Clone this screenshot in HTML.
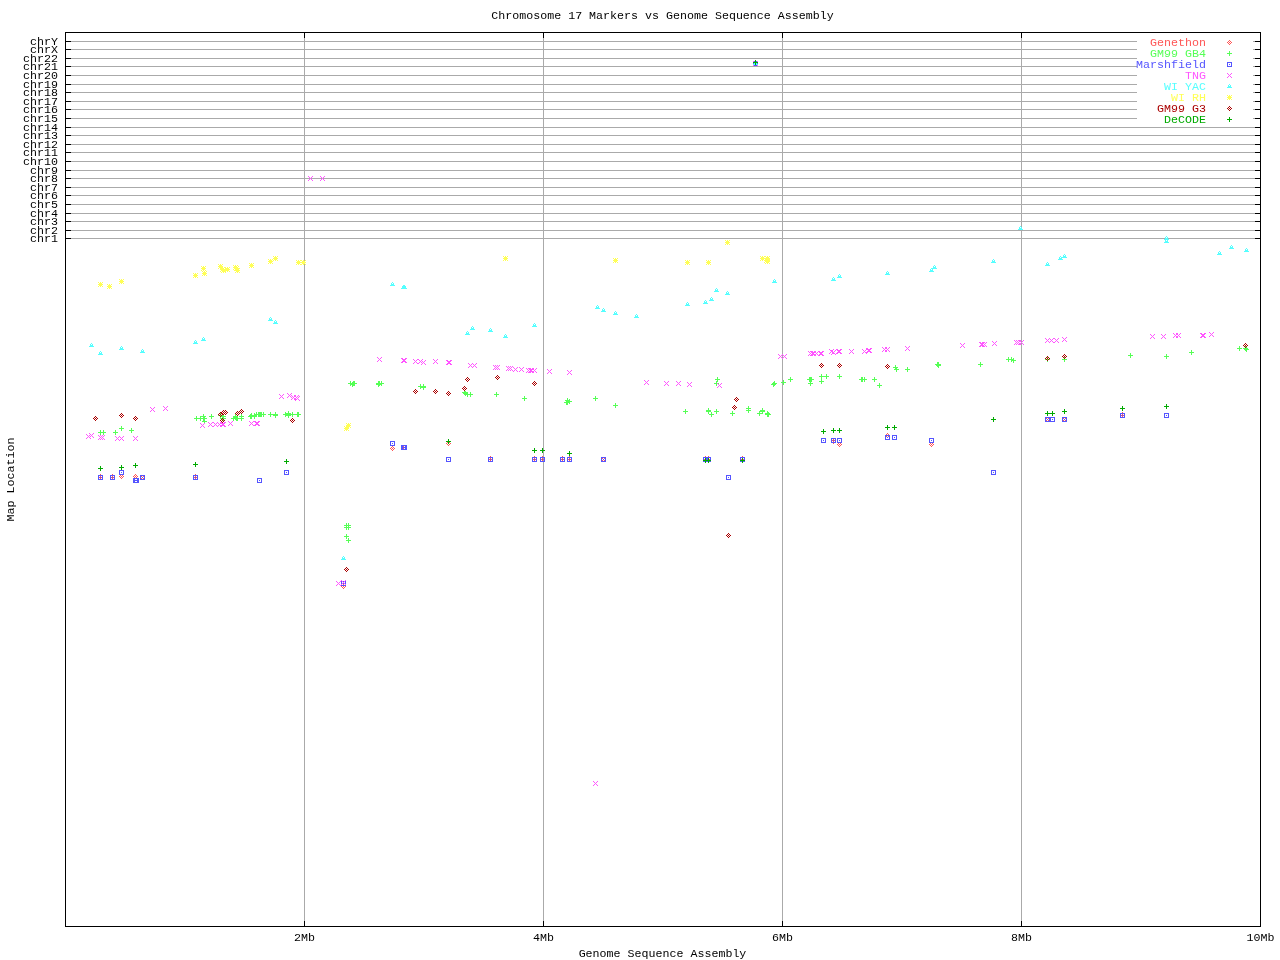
<!DOCTYPE html>
<html lang="en"><head><meta charset="utf-8">
<title>Chromosome 17 Markers vs Genome Sequence Assembly</title>
<style>
html,body{margin:0;padding:0;background:#fff;}
body{width:1280px;height:960px;overflow:hidden;}
svg{display:block;}
text{font-family:"Liberation Mono","DejaVu Sans Mono",monospace;font-size:11.667px;fill:#000;}
.g{fill:#aaaaaa;shape-rendering:crispEdges;}
.k{fill:#000;shape-rendering:crispEdges;}
.m{shape-rendering:crispEdges;}
</style></head><body>
<svg width="1280" height="960" viewBox="0 0 1280 960">
<rect x="0" y="0" width="1280" height="960" fill="#fff"/>
<defs>
<path id="dia" d="M0 -2h1v1h-1zM-1 -1h1v1h-1zM1 -1h1v1h-1zM-2 0h1v1h-1zM0 0h1v1h-1zM2 0h1v1h-1zM-1 1h1v1h-1zM1 1h1v1h-1zM0 2h1v1h-1z"/>
<path id="plus" d="M0 -2h1v1h-1zM0 -1h1v1h-1zM-2 0h5v1h-5zM0 1h1v1h-1zM0 2h1v1h-1z"/>
<path id="box" d="M-2 -2h5v1h-5zM-2 -1h1v1h-1zM2 -1h1v1h-1zM-2 0h1v1h-1zM0 0h1v1h-1zM2 0h1v1h-1zM-2 1h1v1h-1zM2 1h1v1h-1zM-2 2h5v1h-5z"/>
<path id="x" d="M-2 -2h1v1h-1zM2 -2h1v1h-1zM-1 -1h1v1h-1zM1 -1h1v1h-1zM0 0h1v1h-1zM-1 1h1v1h-1zM1 1h1v1h-1zM-2 2h1v1h-1zM2 2h1v1h-1z"/>
<path id="star" d="M-2 -2h1v1h-1zM0 -2h1v1h-1zM2 -2h1v1h-1zM-1 -1h3v1h-3zM-2 0h5v1h-5zM-1 1h3v1h-3zM-2 2h1v1h-1zM0 2h1v1h-1zM2 2h1v1h-1z"/>
<path id="tri" d="M0 -2h1v1h-1zM-1 -1h1v1h-1zM1 -1h1v1h-1zM-1 0h3v1h-3zM-2 1h5v1h-5z"/>
</defs>
<g class="g">
<rect x="66" y="41" width="1194" height="1"/>
<rect x="66" y="49" width="1194" height="1"/>
<rect x="66" y="58" width="1194" height="1"/>
<rect x="66" y="66" width="1194" height="1"/>
<rect x="66" y="75" width="1194" height="1"/>
<rect x="66" y="84" width="1194" height="1"/>
<rect x="66" y="92" width="1194" height="1"/>
<rect x="66" y="101" width="1194" height="1"/>
<rect x="66" y="109" width="1194" height="1"/>
<rect x="66" y="118" width="1194" height="1"/>
<rect x="66" y="127" width="1194" height="1"/>
<rect x="66" y="135" width="1194" height="1"/>
<rect x="66" y="144" width="1194" height="1"/>
<rect x="66" y="152" width="1194" height="1"/>
<rect x="66" y="161" width="1194" height="1"/>
<rect x="66" y="170" width="1194" height="1"/>
<rect x="66" y="178" width="1194" height="1"/>
<rect x="66" y="187" width="1194" height="1"/>
<rect x="66" y="195" width="1194" height="1"/>
<rect x="66" y="204" width="1194" height="1"/>
<rect x="66" y="213" width="1194" height="1"/>
<rect x="66" y="221" width="1194" height="1"/>
<rect x="66" y="230" width="1194" height="1"/>
<rect x="66" y="238" width="1194" height="1"/>
<rect x="304" y="33" width="1" height="893"/>
<rect x="543" y="33" width="1" height="893"/>
<rect x="782" y="33" width="1" height="893"/>
<rect x="1021" y="33" width="1" height="893"/>
</g>
<rect x="1137" y="33" width="116" height="91" fill="#fff"/>
<g class="k">
<rect x="65" y="32" width="1196" height="1"/>
<rect x="65" y="926" width="1196" height="1"/>
<rect x="65" y="32" width="1" height="895"/>
<rect x="1260" y="32" width="1" height="895"/>
<rect x="65" y="41" width="6" height="1"/>
<rect x="1255" y="41" width="6" height="1"/>
<rect x="65" y="49" width="6" height="1"/>
<rect x="1255" y="49" width="6" height="1"/>
<rect x="65" y="58" width="6" height="1"/>
<rect x="1255" y="58" width="6" height="1"/>
<rect x="65" y="66" width="6" height="1"/>
<rect x="1255" y="66" width="6" height="1"/>
<rect x="65" y="75" width="6" height="1"/>
<rect x="1255" y="75" width="6" height="1"/>
<rect x="65" y="84" width="6" height="1"/>
<rect x="1255" y="84" width="6" height="1"/>
<rect x="65" y="92" width="6" height="1"/>
<rect x="1255" y="92" width="6" height="1"/>
<rect x="65" y="101" width="6" height="1"/>
<rect x="1255" y="101" width="6" height="1"/>
<rect x="65" y="109" width="6" height="1"/>
<rect x="1255" y="109" width="6" height="1"/>
<rect x="65" y="118" width="6" height="1"/>
<rect x="1255" y="118" width="6" height="1"/>
<rect x="65" y="127" width="6" height="1"/>
<rect x="1255" y="127" width="6" height="1"/>
<rect x="65" y="135" width="6" height="1"/>
<rect x="1255" y="135" width="6" height="1"/>
<rect x="65" y="144" width="6" height="1"/>
<rect x="1255" y="144" width="6" height="1"/>
<rect x="65" y="152" width="6" height="1"/>
<rect x="1255" y="152" width="6" height="1"/>
<rect x="65" y="161" width="6" height="1"/>
<rect x="1255" y="161" width="6" height="1"/>
<rect x="65" y="170" width="6" height="1"/>
<rect x="1255" y="170" width="6" height="1"/>
<rect x="65" y="178" width="6" height="1"/>
<rect x="1255" y="178" width="6" height="1"/>
<rect x="65" y="187" width="6" height="1"/>
<rect x="1255" y="187" width="6" height="1"/>
<rect x="65" y="195" width="6" height="1"/>
<rect x="1255" y="195" width="6" height="1"/>
<rect x="65" y="204" width="6" height="1"/>
<rect x="1255" y="204" width="6" height="1"/>
<rect x="65" y="213" width="6" height="1"/>
<rect x="1255" y="213" width="6" height="1"/>
<rect x="65" y="221" width="6" height="1"/>
<rect x="1255" y="221" width="6" height="1"/>
<rect x="65" y="230" width="6" height="1"/>
<rect x="1255" y="230" width="6" height="1"/>
<rect x="65" y="238" width="6" height="1"/>
<rect x="1255" y="238" width="6" height="1"/>
<rect x="304" y="921" width="1" height="6"/>
<rect x="304" y="32" width="1" height="6"/>
<rect x="543" y="921" width="1" height="6"/>
<rect x="543" y="32" width="1" height="6"/>
<rect x="782" y="921" width="1" height="6"/>
<rect x="782" y="32" width="1" height="6"/>
<rect x="1021" y="921" width="1" height="6"/>
<rect x="1021" y="32" width="1" height="6"/>
</g>
<g class="m" fill="#ff5555">
<use href="#dia" x="100" y="476"/>
<use href="#dia" x="112" y="476"/>
<use href="#dia" x="121" y="476"/>
<use href="#dia" x="135" y="476"/>
<use href="#dia" x="142" y="477"/>
<use href="#dia" x="195" y="476"/>
<use href="#dia" x="392" y="448"/>
<use href="#dia" x="404" y="447"/>
<use href="#dia" x="448" y="443"/>
<use href="#dia" x="490" y="458"/>
<use href="#dia" x="534" y="458"/>
<use href="#dia" x="542" y="458"/>
<use href="#dia" x="562" y="458"/>
<use href="#dia" x="569" y="458"/>
<use href="#dia" x="603" y="459"/>
<use href="#dia" x="705" y="458"/>
<use href="#dia" x="708" y="458"/>
<use href="#dia" x="742" y="458"/>
<use href="#dia" x="833" y="441"/>
<use href="#dia" x="839" y="444"/>
<use href="#dia" x="887" y="435"/>
<use href="#dia" x="931" y="444"/>
<use href="#dia" x="1047" y="419"/>
<use href="#dia" x="1064" y="419"/>
<use href="#dia" x="1122" y="414"/>
<use href="#dia" x="343" y="586"/>
</g>
<g class="m" fill="#55ff55">
<use href="#plus" x="100" y="432"/>
<use href="#plus" x="103" y="432"/>
<use href="#plus" x="115" y="432"/>
<use href="#plus" x="121" y="428"/>
<use href="#plus" x="131" y="430"/>
<use href="#plus" x="196" y="418"/>
<use href="#plus" x="200" y="418"/>
<use href="#plus" x="203" y="416"/>
<use href="#plus" x="203" y="418"/>
<use href="#plus" x="204" y="418"/>
<use href="#plus" x="204" y="421"/>
<use href="#plus" x="211" y="416"/>
<use href="#plus" x="220" y="415"/>
<use href="#plus" x="222" y="418"/>
<use href="#plus" x="223" y="418"/>
<use href="#plus" x="223" y="416"/>
<use href="#plus" x="233" y="418"/>
<use href="#plus" x="235" y="416"/>
<use href="#plus" x="235" y="417"/>
<use href="#plus" x="236" y="418"/>
<use href="#plus" x="237" y="418"/>
<use href="#plus" x="241" y="416"/>
<use href="#plus" x="241" y="418"/>
<use href="#plus" x="250" y="416"/>
<use href="#plus" x="251" y="415"/>
<use href="#plus" x="251" y="416"/>
<use href="#plus" x="254" y="415"/>
<use href="#plus" x="254" y="416"/>
<use href="#plus" x="256" y="414"/>
<use href="#plus" x="258" y="414"/>
<use href="#plus" x="259" y="414"/>
<use href="#plus" x="260" y="414"/>
<use href="#plus" x="261" y="414"/>
<use href="#plus" x="263" y="414"/>
<use href="#plus" x="270" y="414"/>
<use href="#plus" x="275" y="414"/>
<use href="#plus" x="275" y="415"/>
<use href="#plus" x="285" y="414"/>
<use href="#plus" x="288" y="413"/>
<use href="#plus" x="288" y="414"/>
<use href="#plus" x="288" y="415"/>
<use href="#plus" x="292" y="414"/>
<use href="#plus" x="297" y="414"/>
<use href="#plus" x="298" y="414"/>
<use href="#plus" x="350" y="383"/>
<use href="#plus" x="352" y="384"/>
<use href="#plus" x="353" y="383"/>
<use href="#plus" x="354" y="383"/>
<use href="#plus" x="378" y="383"/>
<use href="#plus" x="379" y="383"/>
<use href="#plus" x="378" y="384"/>
<use href="#plus" x="381" y="383"/>
<use href="#plus" x="420" y="386"/>
<use href="#plus" x="423" y="386"/>
<use href="#plus" x="423" y="387"/>
<use href="#plus" x="464" y="392"/>
<use href="#plus" x="465" y="393"/>
<use href="#plus" x="467" y="394"/>
<use href="#plus" x="470" y="394"/>
<use href="#plus" x="496" y="394"/>
<use href="#plus" x="524" y="398"/>
<use href="#plus" x="567" y="400"/>
<use href="#plus" x="569" y="401"/>
<use href="#plus" x="566" y="402"/>
<use href="#plus" x="567" y="402"/>
<use href="#plus" x="595" y="398"/>
<use href="#plus" x="615" y="405"/>
<use href="#plus" x="685" y="411"/>
<use href="#plus" x="708" y="410"/>
<use href="#plus" x="708" y="411"/>
<use href="#plus" x="711" y="414"/>
<use href="#plus" x="716" y="411"/>
<use href="#plus" x="732" y="413"/>
<use href="#plus" x="748" y="408"/>
<use href="#plus" x="748" y="410"/>
<use href="#plus" x="759" y="413"/>
<use href="#plus" x="762" y="410"/>
<use href="#plus" x="762" y="411"/>
<use href="#plus" x="767" y="413"/>
<use href="#plus" x="768" y="414"/>
<use href="#plus" x="767" y="414"/>
<use href="#plus" x="717" y="379"/>
<use href="#plus" x="716" y="383"/>
<use href="#plus" x="773" y="384"/>
<use href="#plus" x="774" y="383"/>
<use href="#plus" x="783" y="382"/>
<use href="#plus" x="790" y="379"/>
<use href="#plus" x="809" y="379"/>
<use href="#plus" x="810" y="379"/>
<use href="#plus" x="811" y="379"/>
<use href="#plus" x="810" y="383"/>
<use href="#plus" x="821" y="376"/>
<use href="#plus" x="821" y="381"/>
<use href="#plus" x="826" y="376"/>
<use href="#plus" x="839" y="376"/>
<use href="#plus" x="861" y="379"/>
<use href="#plus" x="862" y="379"/>
<use href="#plus" x="864" y="379"/>
<use href="#plus" x="874" y="379"/>
<use href="#plus" x="879" y="385"/>
<use href="#plus" x="895" y="367"/>
<use href="#plus" x="896" y="369"/>
<use href="#plus" x="907" y="369"/>
<use href="#plus" x="937" y="364"/>
<use href="#plus" x="938" y="364"/>
<use href="#plus" x="938" y="365"/>
<use href="#plus" x="980" y="364"/>
<use href="#plus" x="1008" y="359"/>
<use href="#plus" x="1011" y="359"/>
<use href="#plus" x="1013" y="360"/>
<use href="#plus" x="1047" y="359"/>
<use href="#plus" x="1064" y="359"/>
<use href="#plus" x="1130" y="355"/>
<use href="#plus" x="1166" y="356"/>
<use href="#plus" x="1191" y="352"/>
<use href="#plus" x="1239" y="348"/>
<use href="#plus" x="1245" y="348"/>
<use href="#plus" x="1246" y="349"/>
<use href="#plus" x="346" y="525"/>
<use href="#plus" x="348" y="525"/>
<use href="#plus" x="346" y="527"/>
<use href="#plus" x="348" y="527"/>
<use href="#plus" x="346" y="536"/>
<use href="#plus" x="348" y="540"/>
</g>
<g class="m" fill="#5555ff">
<use href="#box" x="100" y="477"/>
<use href="#box" x="112" y="477"/>
<use href="#box" x="121" y="472"/>
<use href="#box" x="135" y="480"/>
<use href="#box" x="136" y="480"/>
<use href="#box" x="142" y="477"/>
<use href="#box" x="195" y="477"/>
<use href="#box" x="259" y="480"/>
<use href="#box" x="286" y="472"/>
<use href="#box" x="392" y="443"/>
<use href="#box" x="403" y="447"/>
<use href="#box" x="404" y="447"/>
<use href="#box" x="448" y="459"/>
<use href="#box" x="490" y="459"/>
<use href="#box" x="534" y="459"/>
<use href="#box" x="542" y="459"/>
<use href="#box" x="562" y="459"/>
<use href="#box" x="569" y="459"/>
<use href="#box" x="603" y="459"/>
<use href="#box" x="705" y="459"/>
<use href="#box" x="708" y="459"/>
<use href="#box" x="742" y="459"/>
<use href="#box" x="728" y="477"/>
<use href="#box" x="823" y="440"/>
<use href="#box" x="833" y="440"/>
<use href="#box" x="839" y="440"/>
<use href="#box" x="887" y="437"/>
<use href="#box" x="894" y="437"/>
<use href="#box" x="931" y="440"/>
<use href="#box" x="993" y="472"/>
<use href="#box" x="1047" y="419"/>
<use href="#box" x="1052" y="419"/>
<use href="#box" x="1064" y="419"/>
<use href="#box" x="1122" y="415"/>
<use href="#box" x="1166" y="415"/>
<use href="#box" x="343" y="583"/>
<use href="#box" x="755" y="63"/>
</g>
<g class="m" fill="#ff55ff">
<use href="#x" x="152" y="409"/>
<use href="#x" x="165" y="408"/>
<use href="#x" x="88" y="436"/>
<use href="#x" x="91" y="435"/>
<use href="#x" x="100" y="437"/>
<use href="#x" x="102" y="437"/>
<use href="#x" x="117" y="438"/>
<use href="#x" x="121" y="438"/>
<use href="#x" x="135" y="438"/>
<use href="#x" x="202" y="425"/>
<use href="#x" x="210" y="424"/>
<use href="#x" x="215" y="424"/>
<use href="#x" x="219" y="424"/>
<use href="#x" x="222" y="424"/>
<use href="#x" x="223" y="424"/>
<use href="#x" x="230" y="423"/>
<use href="#x" x="251" y="423"/>
<use href="#x" x="256" y="423"/>
<use href="#x" x="257" y="423"/>
<use href="#x" x="281" y="396"/>
<use href="#x" x="289" y="395"/>
<use href="#x" x="293" y="397"/>
<use href="#x" x="296" y="397"/>
<use href="#x" x="297" y="398"/>
<use href="#x" x="379" y="359"/>
<use href="#x" x="403" y="360"/>
<use href="#x" x="404" y="360"/>
<use href="#x" x="415" y="361"/>
<use href="#x" x="420" y="361"/>
<use href="#x" x="423" y="362"/>
<use href="#x" x="435" y="361"/>
<use href="#x" x="448" y="362"/>
<use href="#x" x="449" y="362"/>
<use href="#x" x="470" y="365"/>
<use href="#x" x="474" y="365"/>
<use href="#x" x="495" y="367"/>
<use href="#x" x="497" y="367"/>
<use href="#x" x="508" y="368"/>
<use href="#x" x="510" y="368"/>
<use href="#x" x="515" y="369"/>
<use href="#x" x="521" y="369"/>
<use href="#x" x="528" y="370"/>
<use href="#x" x="530" y="370"/>
<use href="#x" x="531" y="370"/>
<use href="#x" x="534" y="370"/>
<use href="#x" x="549" y="371"/>
<use href="#x" x="569" y="372"/>
<use href="#x" x="646" y="382"/>
<use href="#x" x="666" y="383"/>
<use href="#x" x="678" y="383"/>
<use href="#x" x="689" y="384"/>
<use href="#x" x="719" y="385"/>
<use href="#x" x="780" y="356"/>
<use href="#x" x="784" y="356"/>
<use href="#x" x="810" y="353"/>
<use href="#x" x="812" y="353"/>
<use href="#x" x="813" y="353"/>
<use href="#x" x="816" y="353"/>
<use href="#x" x="820" y="353"/>
<use href="#x" x="821" y="353"/>
<use href="#x" x="831" y="351"/>
<use href="#x" x="833" y="352"/>
<use href="#x" x="838" y="351"/>
<use href="#x" x="839" y="351"/>
<use href="#x" x="851" y="351"/>
<use href="#x" x="864" y="351"/>
<use href="#x" x="868" y="350"/>
<use href="#x" x="869" y="350"/>
<use href="#x" x="884" y="349"/>
<use href="#x" x="887" y="349"/>
<use href="#x" x="907" y="348"/>
<use href="#x" x="962" y="345"/>
<use href="#x" x="981" y="344"/>
<use href="#x" x="982" y="344"/>
<use href="#x" x="984" y="344"/>
<use href="#x" x="994" y="343"/>
<use href="#x" x="1016" y="342"/>
<use href="#x" x="1018" y="342"/>
<use href="#x" x="1021" y="342"/>
<use href="#x" x="1047" y="340"/>
<use href="#x" x="1051" y="340"/>
<use href="#x" x="1056" y="340"/>
<use href="#x" x="1064" y="339"/>
<use href="#x" x="1152" y="336"/>
<use href="#x" x="1163" y="336"/>
<use href="#x" x="1175" y="335"/>
<use href="#x" x="1178" y="335"/>
<use href="#x" x="1202" y="335"/>
<use href="#x" x="1203" y="335"/>
<use href="#x" x="1211" y="334"/>
<use href="#x" x="310" y="178"/>
<use href="#x" x="322" y="178"/>
<use href="#x" x="338" y="583"/>
<use href="#x" x="343" y="582"/>
<use href="#x" x="595" y="783"/>
<use href="#x" x="755" y="63"/>
</g>
<g class="m" fill="#55ffff">
<use href="#tri" x="91" y="345"/>
<use href="#tri" x="100" y="353"/>
<use href="#tri" x="121" y="348"/>
<use href="#tri" x="142" y="351"/>
<use href="#tri" x="195" y="342"/>
<use href="#tri" x="203" y="339"/>
<use href="#tri" x="270" y="319"/>
<use href="#tri" x="275" y="322"/>
<use href="#tri" x="392" y="284"/>
<use href="#tri" x="403" y="287"/>
<use href="#tri" x="404" y="287"/>
<use href="#tri" x="467" y="333"/>
<use href="#tri" x="472" y="328"/>
<use href="#tri" x="490" y="330"/>
<use href="#tri" x="505" y="336"/>
<use href="#tri" x="534" y="325"/>
<use href="#tri" x="597" y="307"/>
<use href="#tri" x="603" y="310"/>
<use href="#tri" x="615" y="313"/>
<use href="#tri" x="636" y="316"/>
<use href="#tri" x="687" y="304"/>
<use href="#tri" x="705" y="302"/>
<use href="#tri" x="711" y="299"/>
<use href="#tri" x="716" y="290"/>
<use href="#tri" x="727" y="293"/>
<use href="#tri" x="774" y="281"/>
<use href="#tri" x="833" y="279"/>
<use href="#tri" x="839" y="276"/>
<use href="#tri" x="887" y="273"/>
<use href="#tri" x="931" y="270"/>
<use href="#tri" x="934" y="267"/>
<use href="#tri" x="993" y="261"/>
<use href="#tri" x="1047" y="264"/>
<use href="#tri" x="1060" y="258"/>
<use href="#tri" x="1064" y="256"/>
<use href="#tri" x="1166" y="238"/>
<use href="#tri" x="1166" y="241"/>
<use href="#tri" x="1219" y="253"/>
<use href="#tri" x="1231" y="247"/>
<use href="#tri" x="1246" y="250"/>
<use href="#tri" x="1020" y="228"/>
<use href="#tri" x="343" y="558"/>
<use href="#tri" x="755" y="63"/>
</g>
<g class="m" fill="#ffff55">
<use href="#star" x="100" y="284"/>
<use href="#star" x="109" y="286"/>
<use href="#star" x="121" y="281"/>
<use href="#star" x="195" y="275"/>
<use href="#star" x="203" y="268"/>
<use href="#star" x="204" y="273"/>
<use href="#star" x="220" y="266"/>
<use href="#star" x="222" y="269"/>
<use href="#star" x="223" y="270"/>
<use href="#star" x="227" y="269"/>
<use href="#star" x="235" y="267"/>
<use href="#star" x="237" y="270"/>
<use href="#star" x="236" y="268"/>
<use href="#star" x="251" y="265"/>
<use href="#star" x="270" y="261"/>
<use href="#star" x="275" y="258"/>
<use href="#star" x="298" y="262"/>
<use href="#star" x="303" y="262"/>
<use href="#star" x="505" y="258"/>
<use href="#star" x="615" y="260"/>
<use href="#star" x="727" y="242"/>
<use href="#star" x="687" y="262"/>
<use href="#star" x="708" y="262"/>
<use href="#star" x="762" y="258"/>
<use href="#star" x="767" y="258"/>
<use href="#star" x="766" y="260"/>
<use href="#star" x="767" y="261"/>
<use href="#star" x="346" y="428"/>
<use href="#star" x="348" y="425"/>
</g>
<g class="m" fill="#aa0000">
<use href="#dia" x="95" y="418"/>
<use href="#dia" x="121" y="415"/>
<use href="#dia" x="135" y="418"/>
<use href="#dia" x="220" y="414"/>
<use href="#dia" x="223" y="412"/>
<use href="#dia" x="225" y="412"/>
<use href="#dia" x="222" y="420"/>
<use href="#dia" x="237" y="413"/>
<use href="#dia" x="241" y="411"/>
<use href="#dia" x="292" y="420"/>
<use href="#dia" x="415" y="391"/>
<use href="#dia" x="435" y="391"/>
<use href="#dia" x="448" y="393"/>
<use href="#dia" x="467" y="379"/>
<use href="#dia" x="497" y="377"/>
<use href="#dia" x="464" y="388"/>
<use href="#dia" x="534" y="383"/>
<use href="#dia" x="736" y="399"/>
<use href="#dia" x="734" y="407"/>
<use href="#dia" x="821" y="365"/>
<use href="#dia" x="839" y="365"/>
<use href="#dia" x="887" y="366"/>
<use href="#dia" x="1047" y="358"/>
<use href="#dia" x="1064" y="356"/>
<use href="#dia" x="1245" y="345"/>
<use href="#dia" x="346" y="569"/>
<use href="#dia" x="728" y="535"/>
</g>
<g class="m" fill="#00aa00">
<use href="#plus" x="100" y="468"/>
<use href="#plus" x="121" y="467"/>
<use href="#plus" x="135" y="465"/>
<use href="#plus" x="195" y="464"/>
<use href="#plus" x="286" y="461"/>
<use href="#plus" x="448" y="441"/>
<use href="#plus" x="534" y="450"/>
<use href="#plus" x="542" y="450"/>
<use href="#plus" x="569" y="453"/>
<use href="#plus" x="705" y="460"/>
<use href="#plus" x="708" y="460"/>
<use href="#plus" x="742" y="460"/>
<use href="#plus" x="823" y="431"/>
<use href="#plus" x="833" y="430"/>
<use href="#plus" x="839" y="430"/>
<use href="#plus" x="887" y="427"/>
<use href="#plus" x="894" y="427"/>
<use href="#plus" x="993" y="419"/>
<use href="#plus" x="1047" y="413"/>
<use href="#plus" x="1052" y="413"/>
<use href="#plus" x="1064" y="411"/>
<use href="#plus" x="1122" y="408"/>
<use href="#plus" x="1166" y="406"/>
<use href="#plus" x="755" y="62"/>
</g>
<text transform="matrix(1 0 0 0.9 1206 46)" text-anchor="end" style="fill:#ff5555">Genethon</text>
<use class="m" href="#dia" x="1229" y="42" fill="#ff5555"/>
<text transform="matrix(1 0 0 0.9 1206 57)" text-anchor="end" style="fill:#55ff55">GM99 GB4</text>
<use class="m" href="#plus" x="1229" y="53" fill="#55ff55"/>
<text transform="matrix(1 0 0 0.9 1206 68)" text-anchor="end" style="fill:#5555ff">Marshfield</text>
<use class="m" href="#box" x="1229" y="64" fill="#5555ff"/>
<text transform="matrix(1 0 0 0.9 1206 79)" text-anchor="end" style="fill:#ff55ff">TNG</text>
<use class="m" href="#x" x="1229" y="75" fill="#ff55ff"/>
<text transform="matrix(1 0 0 0.9 1206 90)" text-anchor="end" style="fill:#55ffff">WI YAC</text>
<use class="m" href="#tri" x="1229" y="86" fill="#55ffff"/>
<text transform="matrix(1 0 0 0.9 1206 101)" text-anchor="end" style="fill:#ffff55">WI RH</text>
<use class="m" href="#star" x="1229" y="97" fill="#ffff55"/>
<text transform="matrix(1 0 0 0.9 1206 112)" text-anchor="end" style="fill:#aa0000">GM99 G3</text>
<use class="m" href="#dia" x="1229" y="108" fill="#aa0000"/>
<text transform="matrix(1 0 0 0.9 1206 123)" text-anchor="end" style="fill:#00aa00">DeCODE</text>
<use class="m" href="#plus" x="1229" y="119" fill="#00aa00"/>
<text transform="matrix(1 0 0 0.9 58 45)" text-anchor="end">chrY</text>
<text transform="matrix(1 0 0 0.9 58 53)" text-anchor="end">chrX</text>
<text transform="matrix(1 0 0 0.9 58 62)" text-anchor="end">chr22</text>
<text transform="matrix(1 0 0 0.9 58 70)" text-anchor="end">chr21</text>
<text transform="matrix(1 0 0 0.9 58 79)" text-anchor="end">chr20</text>
<text transform="matrix(1 0 0 0.9 58 88)" text-anchor="end">chr19</text>
<text transform="matrix(1 0 0 0.9 58 96)" text-anchor="end">chr18</text>
<text transform="matrix(1 0 0 0.9 58 105)" text-anchor="end">chr17</text>
<text transform="matrix(1 0 0 0.9 58 113)" text-anchor="end">chr16</text>
<text transform="matrix(1 0 0 0.9 58 122)" text-anchor="end">chr15</text>
<text transform="matrix(1 0 0 0.9 58 131)" text-anchor="end">chr14</text>
<text transform="matrix(1 0 0 0.9 58 139)" text-anchor="end">chr13</text>
<text transform="matrix(1 0 0 0.9 58 148)" text-anchor="end">chr12</text>
<text transform="matrix(1 0 0 0.9 58 156)" text-anchor="end">chr11</text>
<text transform="matrix(1 0 0 0.9 58 165)" text-anchor="end">chr10</text>
<text transform="matrix(1 0 0 0.9 58 174)" text-anchor="end">chr9</text>
<text transform="matrix(1 0 0 0.9 58 182)" text-anchor="end">chr8</text>
<text transform="matrix(1 0 0 0.9 58 191)" text-anchor="end">chr7</text>
<text transform="matrix(1 0 0 0.9 58 199)" text-anchor="end">chr6</text>
<text transform="matrix(1 0 0 0.9 58 208)" text-anchor="end">chr5</text>
<text transform="matrix(1 0 0 0.9 58 217)" text-anchor="end">chr4</text>
<text transform="matrix(1 0 0 0.9 58 225)" text-anchor="end">chr3</text>
<text transform="matrix(1 0 0 0.9 58 234)" text-anchor="end">chr2</text>
<text transform="matrix(1 0 0 0.9 58 242)" text-anchor="end">chr1</text>
<text transform="matrix(1 0 0 0.9 304.5 941)" text-anchor="middle">2Mb</text>
<text transform="matrix(1 0 0 0.9 543.5 941)" text-anchor="middle">4Mb</text>
<text transform="matrix(1 0 0 0.9 782.5 941)" text-anchor="middle">6Mb</text>
<text transform="matrix(1 0 0 0.9 1021.5 941)" text-anchor="middle">8Mb</text>
<text transform="matrix(1 0 0 0.9 1260.5 941)" text-anchor="middle">10Mb</text>
<text transform="matrix(1 0 0 0.9 662.5 19)" text-anchor="middle">Chromosome 17 Markers vs Genome Sequence Assembly</text>
<text transform="matrix(1 0 0 0.9 662.5 957)" text-anchor="middle">Genome Sequence Assembly</text>
<text transform="translate(14,479.5) rotate(-90) scale(1,0.9)" text-anchor="middle">Map Location</text>
</svg></body></html>
